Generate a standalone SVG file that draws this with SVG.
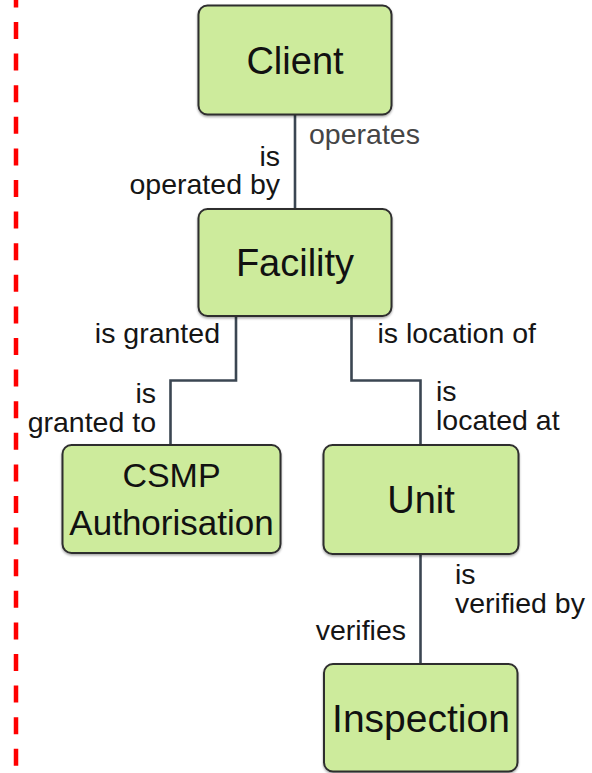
<svg xmlns="http://www.w3.org/2000/svg" width="592" height="773" viewBox="0 0 592 773">
<defs>
<filter id="sh" x="-10%" y="-10%" width="120%" height="125%">
<feDropShadow dx="0" dy="1.5" stdDeviation="1.2" flood-color="#000" flood-opacity="0.35"/>
</filter>
<style>
.node rect{fill:#cdeb9c;stroke:#2e2e2e;stroke-width:2;filter:url(#sh)}
.nt{font-family:"Liberation Sans",Arial,sans-serif;font-size:38px;fill:#111;text-anchor:middle}
.lbl{font-family:"Liberation Sans",Arial,sans-serif;font-size:28.5px;fill:#151515}
.conn path{fill:none;stroke:#3b4652;stroke-width:2.6}
</style>
</defs>
<rect width="592" height="773" fill="#fff"/>
<line x1="16" y1="0" x2="16" y2="773" stroke="#ff0000" stroke-width="4.5" stroke-dasharray="17 14.6" stroke-dashoffset="9.6"/>
<g id="connectors" class="conn">
<path d="M295 115 V209"/>
<path d="M236 316 V380.5 H170.5 V445"/>
<path d="M351.5 316 V380.5 H420.5 V445"/>
<path d="M420.5 554 V664"/>
</g>
<g id="labels">
<text class="lbl" x="309" y="144" style="fill:#454545">operates</text>
<text class="lbl" x="280" y="165.5" text-anchor="end">is</text>
<text class="lbl" x="280" y="194.3" text-anchor="end">operated by</text>
<text class="lbl" x="220" y="342.7" text-anchor="end">is granted</text>
<text class="lbl" x="156" y="402.5" text-anchor="end">is</text>
<text class="lbl" x="156" y="431.5" text-anchor="end">granted to</text>
<text class="lbl" x="377.5" y="342.7">is location of</text>
<text class="lbl" x="436" y="401">is</text>
<text class="lbl" x="436" y="430">located at</text>
<text class="lbl" x="455" y="584.3">is</text>
<text class="lbl" x="455" y="613.3">verified by</text>
<text class="lbl" x="406" y="640" text-anchor="end">verifies</text>
</g>
<g id="client" class="node">
<rect x="198.5" y="5.5" width="193" height="109" rx="9"/>
<text class="nt" x="295" y="74">Client</text>
</g>
<g id="facility" class="node">
<rect x="198.5" y="209" width="193" height="107" rx="9"/>
<text class="nt" x="295" y="276">Facility</text>
</g>
<g id="csmp" class="node">
<rect x="62.5" y="445" width="218" height="108" rx="9"/>
<text class="nt" x="171.5" y="486.7" style="font-size:34px">CSMP</text>
<text class="nt" x="171.5" y="535" style="font-size:35px">Authorisation</text>
</g>
<g id="unit" class="node">
<rect x="323.5" y="445" width="195" height="109" rx="9"/>
<text class="nt" x="421" y="512.5">Unit</text>
</g>
<g id="inspection" class="node">
<rect x="324" y="664" width="193.5" height="107.5" rx="9"/>
<text class="nt" x="421" y="731.7" style="font-size:39px">Inspection</text>
</g>
</svg>
